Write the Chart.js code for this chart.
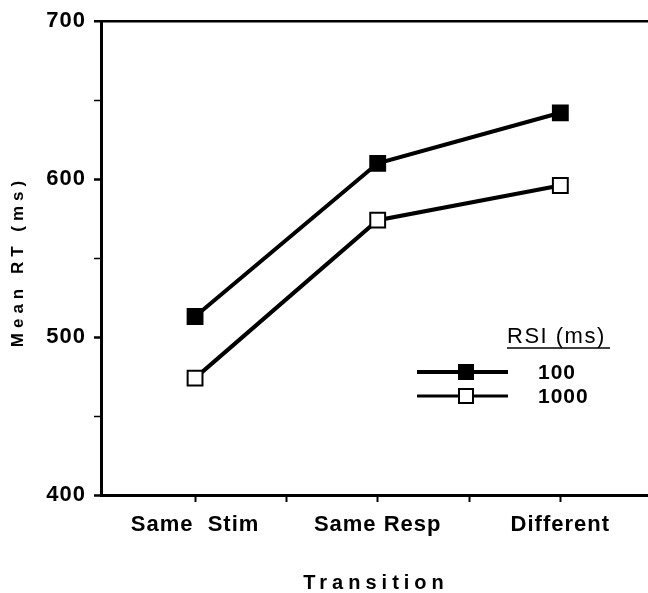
<!DOCTYPE html>
<html><head><meta charset="utf-8">
<script src="https://cdn.jsdelivr.net/npm/chart.js@4"></script>
<style>html,body{margin:0;padding:0;background:#fff}#wrap{width:648px;height:593px}</style>
</head><body><div id="wrap"><canvas id="c" width="648" height="593"></canvas></div>
<script>
const categories = ['Same  Stim', 'Same Resp', 'Different'];
const rsi100 = [513, 610, 642];
const rsi1000 = [474, 574, 596];
const seriesLabels = ['100', '1000'];
const xTitle = 'Transition';
const yTitle = 'Mean RT (ms)';
const legendTitle = 'RSI (ms)';

const FAM = '"Liberation Sans", Arial, sans-serif';

const extras = {
  id: 'extras',
  beforeDraw(chart) { chart.ctx.letterSpacing = '1px'; },
  afterDraw(chart) {
    const ctx = chart.ctx;
    ctx.save();
    ctx.fillStyle = '#000';
    ctx.strokeStyle = '#000';
    // y title
    ctx.save();
    ctx.translate(18, 264);
    ctx.rotate(-Math.PI / 2);
    ctx.font = 'bold 17px ' + FAM;
    ctx.letterSpacing = '5px';
    ctx.textAlign = 'center';
    ctx.textBaseline = 'middle';
    ctx.fillText(yTitle, 2.5, 0);
    ctx.restore();
    // x title
    ctx.font = 'bold 20px ' + FAM;
    ctx.letterSpacing = '5px';
    ctx.textAlign = 'center';
    ctx.textBaseline = 'middle';
    ctx.fillText(xTitle, 376, 583);
    // legend
    ctx.letterSpacing = '1.5px';
    ctx.font = '22px ' + FAM;
    ctx.textAlign = 'left';
    ctx.fillText(legendTitle, 507, 337);
    ctx.lineWidth = 1.5;
    ctx.beginPath(); ctx.moveTo(507, 348); ctx.lineTo(610, 348); ctx.stroke();
    const rows = [372, 396];
    chart.data.datasets.forEach((ds, i) => {
      const y = rows[i];
      ctx.lineWidth = i === 0 ? 4 : 3;
      ctx.strokeStyle = ds.borderColor;
      ctx.beginPath(); ctx.moveTo(417, y); ctx.lineTo(508, y); ctx.stroke();
      ctx.fillStyle = ds.pointBackgroundColor;
      ctx.lineWidth = ds.pointBorderWidth;
      ctx.strokeStyle = ds.pointBorderColor;
      ctx.fillRect(459, y - 7, 14, 14);
      ctx.strokeRect(459, y - 7, 14, 14);
      ctx.fillStyle = '#000';
      ctx.font = 'bold 21px ' + FAM;
      ctx.letterSpacing = '1px';
      ctx.fillText(ds.label, 538, y + 1);
    });
    ctx.restore();
  }
};

const toPts = arr => arr.map((v, i) => ({ x: i, y: v }));

new Chart(document.getElementById('c'), {
  type: 'line',
  data: {
    datasets: [
      { label: seriesLabels[0], data: toPts(rsi100), borderColor: '#000', borderWidth: 4,
        pointStyle: 'rect', pointRadius: 10.5, pointBackgroundColor: '#000', pointBorderColor: '#000',
        pointBorderWidth: 2, tension: 0, clip: false },
      { label: seriesLabels[1], data: toPts(rsi1000), borderColor: '#000', borderWidth: 4,
        pointStyle: 'rect', pointRadius: 10.5, pointBackgroundColor: '#fff', pointBorderColor: '#000',
        pointBorderWidth: 2, tension: 0, clip: false }
    ]
  },
  options: {
    responsive: false, animation: false, devicePixelRatio: 1,
    layout: { autoPadding: false, padding: { top: 20, right: 0, bottom: 0, left: 0 } },
    plugins: { legend: { display: false }, tooltip: { enabled: false }, title: { display: false } },
    scales: {
      x: {
        type: 'linear', position: 'bottom', min: -0.515, max: 2.48,
        afterBuildTicks: s => { s.ticks = [0, 0.5, 1, 1.5, 2].map(v => ({ value: v })); },
        afterFit: s => { s.height = 98; s.paddingLeft = 0; s.paddingRight = 0; },
        ticks: {
          autoSkip: false, maxRotation: 0, minRotation: 0, color: '#000', padding: 10,
          font: { family: FAM, size: 22, weight: 'bold' },
          callback: v => Number.isInteger(v) ? categories[v] : ''
        },
        grid: { drawOnChartArea: false, drawTicks: true, tickLength: 7, tickColor: '#000', tickWidth: 2 },
        border: { color: '#000', width: 3 }
      },
      y: {
        type: 'linear', min: 400, max: 700,
        afterFit: s => { s.width = 101; },
        ticks: {
          stepSize: 50, color: '#000', padding: 8,
          font: { family: FAM, size: 22, weight: 'bold' },
          callback: v => v % 100 === 0 ? String(v) : ''
        },
        grid: {
          drawOnChartArea: true, tickLength: 7, tickColor: '#000',
          color: c => (c.tick && c.tick.value === 700) ? '#000' : 'rgba(0,0,0,0)',
          lineWidth: c => (c.tick && c.tick.value === 700) ? 2.5 : 1,
          tickWidth: c => (c.tick && c.tick.value % 100 === 0) ? 2.5 : 1.5
        },
        border: { color: '#000', width: 3 }
      }
    }
  },
  plugins: [extras]
});
</script>
</body></html>
